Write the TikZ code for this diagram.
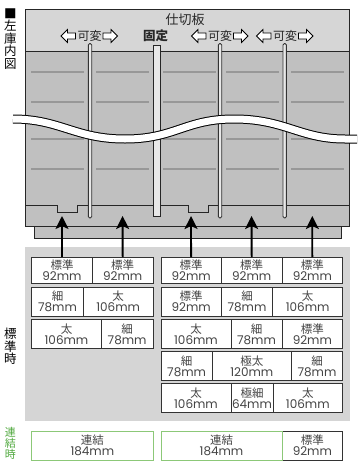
\documentclass[tikz,border=0pt]{standalone}
\usepackage{fontspec}
\newfontfamily\cjk{Noto Sans CJK JP}
\newfontfamily\lat{Poppins}
\usetikzlibrary{arrows.meta}
\definecolor{band}{HTML}{D6D6D6}
\definecolor{body}{HTML}{C0C0C0}
\definecolor{shelfc}{HTML}{989898}
\definecolor{panelc}{HTML}{D5D5D5}
\definecolor{inkc}{HTML}{333333}
\definecolor{textc}{HTML}{444444}
\definecolor{greenc}{HTML}{8CC878}
\definecolor{greent}{HTML}{4FA83D}
\definecolor{wallc}{HTML}{E8E8E8}
\tikzset{
  cellbox/.style={draw=inkc,fill=white,line width=1pt,inner sep=0pt,outer sep=0pt,align=center,text=textc,font=\fontsize{11}{11}\selectfont},
  greenbox/.style={cellbox,draw=greenc},
  shelf/.style={draw=shelfc,line width=1.2pt},
  outline/.style={draw=black!85,line width=1pt},
  thinwall/.style={draw=black!80,fill=wallc,line width=.9pt,rounded corners=1.4pt},
  pusharrow/.style={draw=black,line width=1.8pt,-{Stealth[length=13pt,width=13pt,inset=3pt]}},
  blockarrow/.style={draw=black,fill=white,line width=.8pt,line join=miter},
  tategaki/.style={font=\cjk\fontsize{12.5}{12.5}\selectfont,align=center,inner sep=0pt,anchor=north},
  lab/.style={font=\cjk\fontsize{12}{12}\selectfont,inner sep=0pt,text=black!85}
}
\newcommand{\cellat}[8][cellbox]{%
  \node[#1,minimum width={(#4-#3)*1pt},minimum height={(#6-#5)*1pt}] (#2) at ({(#3+#4)/2},{(#5+#6)/2}) {{\cjk\fontsize{11.5}{11}\selectfont #7}\\[0pt]{\lat\fontsize{12}{11}\selectfont #8}};}
\newcommand{\henkou}[2]{%
  \node[lab] (#1) at (#2+28.5,36) {可変};
  \draw[blockarrow] (#2,36) -- (#2+6.5,29.5) -- (#2+6.5,33) -- (#2+14.5,33) -- (#2+14.5,39) -- (#2+6.5,39) -- (#2+6.5,42.5) -- cycle;
  \draw[blockarrow] (#2+56.5,36) -- (#2+50,29.5) -- (#2+50,33) -- (#2+42,33) -- (#2+42,39) -- (#2+50,39) -- (#2+50,42.5) -- cycle;}
\newcommand{\wallthin}[1]{\draw[thinwall] (#1-1.7,218) rectangle (#1+1.7,43.5);}
\begin{document}
\begin{tikzpicture}[x=1pt,y=-1pt]
\useasboundingbox (0,0) rectangle (357,461);
% tray
\draw[outline,fill=body] (34,220) rectangle (341,238);
% body
\fill[body] (25.5,51) rectangle (349.7,226);
\fill[band] (25.5,9) rectangle (349.7,51);
\draw[outline] (25.5,51) -- (349.7,51);
% shelves
\foreach \y in {72,102,139,169}{
  \foreach \a/\b in {31/84,96/149,163/216,226/278.5,291/344}{
    \draw[shelf] (\a,\y) -- (\b,\y);
  }
}
% lower ledge with notches
\draw[outline] (25.5,205.7) -- (57,205.7) -- (57,212.5) -- (77.5,212.5) -- (77.5,205.7) -- (188,205.7) -- (188,212.5) -- (208.7,212.5) -- (208.7,205.7) -- (349.7,205.7);
\draw[outline] (25.5,9) rectangle (349.7,226);
% partitions
\wallthin{90}
\wallthin{220}
\wallthin{284.7}
\draw[draw=black!85,fill=wallc,line width=1pt] (153,45) rectangle (160.5,216.5);
% wave
\draw[draw=black,line width=1pt,double=white,double distance=7pt]
  (13,119) .. controls (60,119) and (75,139) .. (125,139)
  .. controls (175,139) and (185,119) .. (234,119)
  .. controls (285,119) and (300,139) .. (345,139) -- (357,139);
% labels in the top band
\node[lab,font=\cjk\fontsize{13}{13}\selectfont] (title) at (185,20) {仕切板};
\node[lab,font=\cjk\bfseries\fontsize{12.5}{12.5}\selectfont] (fixed) at (155.5,35.5) {固定};
\henkou{v1}{61}
\henkou{v2}{191.5}
\henkou{v3}{256.5}
% side labels
\node[tategaki] (sideA) at (10.5,8.5) {■\\左\\庫\\内\\図};
\node[tategaki] (sideB) at (10.5,328) {標\\準\\時};
\node[tategaki,text=greent,font=\cjk\fontsize{11}{11}\selectfont] (sideC) at (10.5,427.5) {連\\結\\時};
% panel
\fill[panelc] (25,246.7) rectangle (350,420.7);
% left column
\cellat{a1}{31.7}{92.3}{257}{283.3}{標準}{92mm}
\cellat{a2}{92.3}{153}{257}{283.3}{標準}{92mm}
\cellat{b1}{31.7}{83.3}{287}{316}{細}{78mm}
\cellat{b2}{83.3}{153}{287}{316}{太}{106mm}
\cellat{c1}{31.7}{101.3}{319.3}{348.3}{太}{106mm}
\cellat{c2}{101.3}{153}{319.3}{348.3}{細}{78mm}
% right column
\cellat{d1}{161}{221.3}{257}{283.3}{標準}{92mm}
\cellat{d2}{221.3}{282}{257}{283.3}{標準}{92mm}
\cellat{d3}{282}{342.7}{257}{283.3}{標準}{92mm}
\cellat{e1}{161}{221.3}{287}{316}{標準}{92mm}
\cellat{e2}{221.3}{272.7}{287}{316}{細}{78mm}
\cellat{e3}{272.7}{342.7}{287}{316}{太}{106mm}
\cellat{f1}{161}{231}{319.3}{348.3}{太}{106mm}
\cellat{f2}{231}{282}{319.3}{348.3}{細}{78mm}
\cellat{f3}{282}{342.7}{319.3}{348.3}{標準}{92mm}
\cellat{g1}{161}{212.3}{351.7}{380}{細}{78mm}
\cellat{g2}{212.3}{291.3}{351.7}{380}{極太}{120mm}
\cellat{g3}{291.3}{342.7}{351.7}{380}{細}{78mm}
\cellat{h1}{161}{231}{383.3}{412.3}{太}{106mm}
\cellat{h2}{231}{273}{383.3}{412.3}{極細}{64mm}
\cellat{h3}{273}{342.7}{383.3}{412.3}{太}{106mm}
% bottom row
\cellat[greenbox]{k1}{31.7}{153}{431}{460}{連結}{184mm}
\cellat{k3}{282}{342.7}{431}{460}{標準}{92mm}
\cellat[greenbox]{k2}{161}{282}{431}{460}{連結}{184mm}
% push arrows
\coordinate (t1) at (62,216);
\coordinate (t2) at (122.6,216);
\coordinate (t3) at (191,216);
\coordinate (t4) at (251.6,216);
\coordinate (t5) at (312.3,216);
\draw[pusharrow] (a1.north) -- (t1);
\draw[pusharrow] (a2.north) -- (t2);
\draw[pusharrow] (d1.north) -- (t3);
\draw[pusharrow] (d2.north) -- (t4);
\draw[pusharrow] (d3.north) -- (t5);
\end{tikzpicture}
\end{document}
